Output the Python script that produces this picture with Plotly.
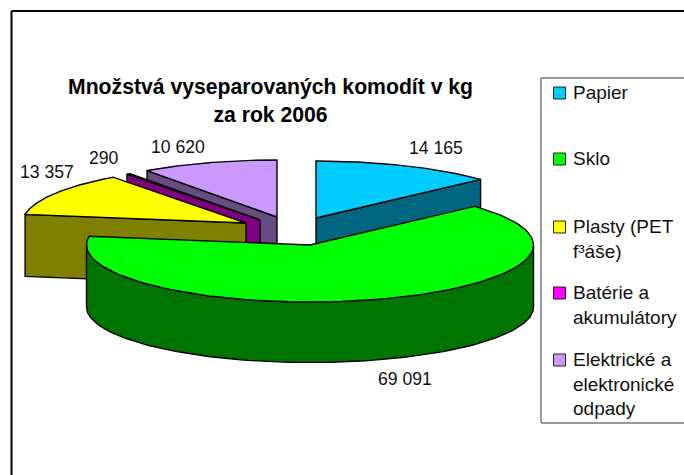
import numpy as np
import plotly.graph_objects as go

categories = ["Papier", "Sklo", "Plasty (PET", "Batérie a", "Elektrické a"]
legend_lines = ["Papier", "Sklo", "Plasty (PET<br>f³áše)", "Batérie a<br>akumulátory", "Elektrické a<br>elektronické<br>odpady"]
values = [14165, 69091, 13357, 290, 10620]
top_colors = ["#00CCFF", "#00FF00", "#FFFF00", "#FF00FF", "#CC99FF"]
side_colors = ["#006680", "#007400", "#808000", "#800080", "#664C80"]
title = "Množstvá vyseparovaných komodít v kg<br>za rok 2006"

# projected pie geometry, pixels
RX, RY, DEPTH = 223.5, 57, 62
centers = [(316, 218), (310, 245), (246, 223), (260, 220), (277, 217)]
label_pos = [(436, 148), (405, 379), (47, 172), (104, 158), (178, 147)]
legend_y = [93, 159, 227, 293, 360]

total = sum(values)
edges = np.concatenate([[0], np.cumsum(values)]) / total * 2 * np.pi


def rim(cx, cy, a, b, n=120, ry=RY):
    t = np.linspace(a, b, n)
    return cx + RX * np.sin(t), cy - ry * np.cos(t)


fig = go.Figure()


def poly(x, y, color):
    fig.add_trace(go.Scatter(
        x=np.r_[x, x[0]], y=np.r_[y, y[0]], mode="lines", fill="toself",
        fillcolor=color, line=dict(color="black", width=1.4),
        hoverinfo="skip", showlegend=False))


def cut_face(i, angle):
    cx, cy = centers[i]
    tx, ty = rim(cx, cy, angle, angle, 1)
    poly(np.array([cx, tx[0], tx[0], cx]),
         np.array([cy, ty[0], ty[0] + DEPTH, cy + DEPTH]), side_colors[i])


def top_face(i):
    cx, cy = centers[i]
    x, y = rim(cx, cy, edges[i], edges[i + 1])
    poly(np.r_[cx, x], np.r_[cy, y], top_colors[i])


# back to front
for i in (4, 3, 2):
    cut_face(i, edges[i])
    top_face(i)
cut_face(0, edges[1])
top_face(0)

# outer wall of the big slice: only the part facing the viewer
cx, cy = centers[1]
wall_from, wall_to = max(edges[1], np.pi / 2), min(edges[2], 3 * np.pi / 2)
x, y = rim(cx, cy, wall_from, wall_to)
xb, yb = rim(cx, cy + DEPTH, wall_from, wall_to, ry=RY - 1.5)
poly(np.r_[x, xb[::-1]], np.r_[y, yb[::-1]], side_colors[1])
top_face(1)

# legend swatches
fig.add_trace(go.Scatter(
    x=[559.5] * 5, y=legend_y, mode="markers",
    marker=dict(symbol="square", size=12, color=top_colors,
                line=dict(color="#222222", width=1)),
    hoverinfo="skip", showlegend=False))

FONT = "Liberation Sans, Arial, sans-serif"
ann = [dict(x=270.5, y=100, text=f"<b>{title}</b>", showarrow=False, align="center",
            font=dict(family=FONT, size=21.2, color="black"))]
for v, (lx, ly) in zip(values, label_pos):
    ann.append(dict(x=lx, y=ly, text=f"{v:,}".replace(",", " "), showarrow=False,
                    font=dict(family=FONT, size=17.6, color="#111111")))
for txt, ly in zip(legend_lines, legend_y):
    ann.append(dict(x=571.5, y=ly - 12.5, text=txt, showarrow=False, xanchor="left",
                    yanchor="top", align="left", borderpad=0,
                    font=dict(family=FONT, size=19, color="#111111")))

line = lambda x0, y0, x1, y1, c, w: dict(type="line", x0=x0, y0=y0, x1=x1, y1=y1,
                                          xref="x", yref="y", line=dict(color=c, width=w))
shapes = [
    line(11.5, 11, 11.5, 475, "black", 2),
    line(11.5, 11, 684, 11, "black", 2),
    line(541, 78, 684, 78, "#777777", 1.5),
    line(541, 78, 541, 423, "#777777", 1.5),
    line(541, 423, 684, 423, "#777777", 1.5),
]

fig.update_layout(
    width=684, height=475, margin=dict(l=0, r=0, t=0, b=0),
    paper_bgcolor="white", plot_bgcolor="white", showlegend=False,
    xaxis=dict(range=[0, 684], visible=False, fixedrange=True),
    yaxis=dict(range=[475, 0], visible=False, fixedrange=True),
    annotations=ann, shapes=shapes)
fig.write_html("out.html", config=dict(displayModeBar=False),
               post_script="document.body.style.margin='0';document.documentElement.style.overflow='hidden';")
